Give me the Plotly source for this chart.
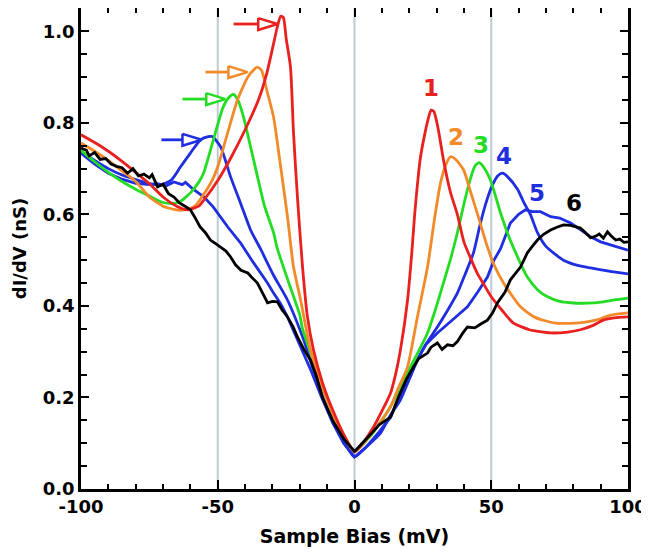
import plotly.graph_objects as go

# ---------------- data ----------------
x1 = [-100, -95, -90, -85, -80, -75, -70, -65, -61, -57, -55, -50, -45, -40, -35, -32, -30, -28.2, -27, -26,
      -25, -23.4, -22.3, -20.8, -19, -17.2, -15, -11.7, -8, -4, 0, 3, 7, 10, 13.2, 15, 16.8, 19.4, 21, 22,
      23, 24, 25.5, 27, 28, 29, 30.5, 32.5, 35, 37.6, 40, 42.4, 45, 47, 50, 54, 58, 64, 71.7, 78, 82.6, 87,
      91, 95, 100]
y1 = [0.774, 0.757, 0.738, 0.716, 0.692, 0.667, 0.638, 0.618, 0.610, 0.618, 0.632, 0.674, 0.726, 0.785,
      0.852, 0.910, 0.962, 1.010, 1.033, 1.030, 0.985, 0.922, 0.778, 0.632, 0.485, 0.376, 0.304, 0.232,
      0.173, 0.120, 0.082, 0.100, 0.136, 0.170, 0.210, 0.250, 0.304, 0.413, 0.520, 0.600, 0.665, 0.720,
      0.770, 0.810, 0.828, 0.825, 0.790, 0.720, 0.650, 0.600, 0.540, 0.505, 0.470, 0.450, 0.420, 0.390,
      0.363, 0.348, 0.341, 0.343, 0.348, 0.357, 0.369, 0.374, 0.376]

x2 = [-100, -95, -90, -85, -80, -75, -70, -65, -63.6, -60, -58, -55, -52, -50, -46.4, -42.8, -39, -36.5,
      -35.5, -34, -32, -29.6, -27, -24.5, -22.3, -19.7, -16.1, -12.4, -8, -4, 0, 4, 8, 13.2, 16, 19.4, 23,
      26.7, 29.5, 31.5, 33.5, 35.1, 37, 39.9, 42.4, 45, 48.6, 51, 54.5, 60.7, 66, 72.8, 79, 85, 90, 93.6, 100]
y2 = [0.756, 0.738, 0.718, 0.695, 0.672, 0.638, 0.618, 0.610, 0.609, 0.613, 0.620, 0.645, 0.675, 0.704,
      0.778, 0.850, 0.900, 0.918, 0.922, 0.915, 0.870, 0.813, 0.704, 0.595, 0.485, 0.413, 0.304, 0.232,
      0.165, 0.115, 0.082, 0.105, 0.135, 0.180, 0.220, 0.267, 0.376, 0.485, 0.600, 0.670, 0.710, 0.726,
      0.720, 0.697, 0.650, 0.600, 0.529, 0.490, 0.450, 0.398, 0.375, 0.363, 0.362, 0.365, 0.372, 0.380, 0.385]

x3 = [-100, -95, -90, -85, -80, -75, -70, -66, -64, -60, -57, -55.2, -51.6, -48, -46, -44.2, -42.5, -40.6,
      -36.9, -34.4, -33, -29.6, -28.2, -24, -20, -19, -15, -10, -5, 0, 5, 10, 13.2, 17, 20.5, 26.7, 30, 32.5,
      35, 37.6, 39.9, 42, 44, 45.5, 47, 49.7, 53.4, 55.9, 58, 63.2, 67, 70.6, 75, 79, 85, 91, 95, 100]
y3 = [0.740, 0.715, 0.692, 0.672, 0.655, 0.640, 0.626, 0.624, 0.627, 0.647, 0.670, 0.690, 0.763, 0.835,
      0.855, 0.862, 0.848, 0.813, 0.719, 0.655, 0.620, 0.560, 0.525, 0.450, 0.380, 0.350, 0.280, 0.195,
      0.130, 0.082, 0.110, 0.150, 0.180, 0.225, 0.267, 0.341, 0.400, 0.450, 0.500, 0.560, 0.620, 0.670,
      0.705, 0.713, 0.705, 0.675, 0.603, 0.560, 0.529, 0.463, 0.435, 0.420, 0.410, 0.407, 0.406, 0.409,
      0.413, 0.417]

x4 = [-100, -95, -90, -85, -80, -75, -71, -67, -63.6, -60, -56.3, -53.5, -52, -49, -45.3, -41.7, -38,
      -34.4, -29.6, -24.5, -18.6, -15, -10, -5, 0, 4, 9.5, 13, 16.8, 20, 23, 26.5, 30.3, 34, 37.6, 40.5,
      43.5, 46, 48.6, 50.5, 52.5, 54.1, 56, 59.6, 62, 64.3, 66.9, 70, 76.4, 82, 86.3, 93, 100]
y4 = [0.737, 0.718, 0.700, 0.686, 0.676, 0.667, 0.664, 0.675, 0.704, 0.734, 0.763, 0.770, 0.770, 0.748,
      0.682, 0.625, 0.566, 0.525, 0.467, 0.413, 0.326, 0.260, 0.175, 0.115, 0.070, 0.090, 0.122, 0.160,
      0.195, 0.240, 0.282, 0.320, 0.354, 0.390, 0.428, 0.470, 0.516, 0.580, 0.635, 0.665, 0.685, 0.690,
      0.682, 0.655, 0.625, 0.600, 0.560, 0.530, 0.500, 0.488, 0.483, 0.476, 0.470]

x5 = [-100, -95, -90, -85, -80, -75, -72, -69, -66, -63, -61.8, -59, -55, -51.6, -46.4, -41.7, -36.9,
      -31.8, -29.6, -27, -24.5, -20, -16, -12, -8, -4, 0, 4, 9, 13.2, 16, 19.4, 23, 26, 30.3, 34, 37.6,
      41.3, 45, 48.6, 51, 53.4, 57, 60, 62.5, 65, 68, 71.7, 75, 79, 83, 86.3, 90, 93.6, 97, 100]
y5 = [0.734, 0.710, 0.690, 0.677, 0.668, 0.665, 0.667, 0.662, 0.671, 0.665, 0.670, 0.655, 0.638, 0.616,
      0.573, 0.538, 0.494, 0.450, 0.428, 0.405, 0.376, 0.315, 0.260, 0.200, 0.145, 0.100, 0.070, 0.090,
      0.125, 0.157, 0.195, 0.232, 0.282, 0.315, 0.341, 0.360, 0.378, 0.398, 0.430, 0.463, 0.500, 0.525,
      0.581, 0.600, 0.610, 0.606, 0.606, 0.595, 0.592, 0.581, 0.565, 0.551, 0.540, 0.533, 0.527, 0.522]

x6 = [-100, -98, -97, -95, -93, -91, -89, -87, -85, -83, -81, -79, -77, -75, -74, -72, -70, -68, -66,
      -64, -62, -60, -58.5, -56.5, -54.5, -52.7, -50.5, -49, -47, -45.3, -43.5, -41.5, -39, -37.5, -35.5,
      -33.5, -31.8, -30, -28.2, -26.5, -24.5, -22.5, -20.8, -18.5, -16.1, -14, -11.7, -8, -4, 0, 3, 6, 9,
      13.2, 16, 19, 21.6, 23.5, 26.7, 28, 30.3, 32, 34, 36, 37.6, 39.5, 41.3, 44, 46, 48.6, 50.5, 52.3, 55,
      57, 60.7, 63.2, 65, 66.9, 69, 71.7, 74, 76.4, 79, 81, 82.6, 84.5, 86.3, 88, 89.5, 91, 92.5, 94, 95.5,
      97, 98.5, 100]
y6 = [0.745, 0.740, 0.728, 0.735, 0.720, 0.722, 0.710, 0.705, 0.702, 0.690, 0.700, 0.684, 0.688, 0.680,
      0.687, 0.660, 0.666, 0.645, 0.638, 0.625, 0.618, 0.610, 0.595, 0.573, 0.560, 0.544, 0.535, 0.529,
      0.520, 0.507, 0.490, 0.478, 0.472, 0.462, 0.450, 0.427, 0.407, 0.410, 0.409, 0.392, 0.376, 0.355,
      0.332, 0.305, 0.282, 0.248, 0.200, 0.150, 0.110, 0.082, 0.100, 0.120, 0.140, 0.157, 0.200, 0.240,
      0.267, 0.285, 0.297, 0.310, 0.319, 0.305, 0.315, 0.313, 0.322, 0.340, 0.354, 0.352, 0.360, 0.369,
      0.385, 0.407, 0.430, 0.457, 0.485, 0.516, 0.530, 0.544, 0.556, 0.566, 0.572, 0.577, 0.576, 0.572,
      0.570, 0.560, 0.549, 0.552, 0.557, 0.548, 0.562, 0.552, 0.544, 0.546, 0.539, 0.540]

series_names = ["1", "2", "3", "4", "5", "6"]
colors = ["#e8201e", "#f28a2a", "#25dc25", "#1f2ee0", "#1f2ee0", "#000000"]

# curve number labels (data coordinates)
label_x = [27.8, 37.0, 46.4, 54.5, 66.9, 80.4]
label_y = [0.876, 0.770, 0.752, 0.728, 0.647, 0.625]

# arrows pointing at the negative-bias peaks of curves 1-4
arrow_start_x = [-44.2, -54.5, -62.9, -70.6]
arrow_tip_x = [-28.2, -39.1, -47.2, -55.9]
arrow_y = [1.016, 0.911, 0.852, 0.763]
arrow_head_len = 7.0
arrow_head_half = 0.013

ref_lines_x = [-50, 0, 50]

x_tick_vals = [-100, -50, 0, 50, 100]
x_tick_text = ["-100", "-50", "0", "50", "100"]
y_tick_vals = [0, 0.2, 0.4, 0.6, 0.8, 1.0]
y_tick_text = ["0.0", "0.2", "0.4", "0.6", "0.8", "1.0"]

# ---------------- figure ----------------
fig = go.Figure()

for xv in ref_lines_x:
    fig.add_vline(x=xv, line=dict(color="#bccbd4", width=2), layer="below")

xs = [x1, x2, x3, x4, x5, x6]
ys = [y1, y2, y3, y4, y5, y6]
order = [4, 3, 2, 1, 0, 5]
for i in order:
    smooth = i < 4
    fig.add_trace(go.Scatter(
        x=xs[i], y=ys[i], mode="lines", name=series_names[i],
        line=dict(color=colors[i], width=2.8, shape="spline" if smooth else "linear",
                  smoothing=0.6 if smooth else None),
        showlegend=False, hoverinfo="skip"))

for k in range(4):
    base = arrow_tip_x[k] - arrow_head_len
    fig.add_trace(go.Scatter(
        x=[arrow_start_x[k], base], y=[arrow_y[k], arrow_y[k]], mode="lines",
        line=dict(color=colors[k], width=2.8), showlegend=False, hoverinfo="skip"))
    fig.add_trace(go.Scatter(
        x=[base, arrow_tip_x[k], base, base],
        y=[arrow_y[k] + arrow_head_half, arrow_y[k], arrow_y[k] - arrow_head_half,
           arrow_y[k] + arrow_head_half],
        mode="lines", fill="toself", fillcolor="white",
        line=dict(color=colors[k], width=2.5), showlegend=False, hoverinfo="skip"))

for k in range(6):
    fig.add_annotation(x=label_x[k], y=label_y[k], text=series_names[k], showarrow=False,
                       font=dict(family="DejaVu Sans", size=23, color=colors[k], weight="bold"))

tick_font = dict(family="DejaVu Sans", size=18, color="black", weight="bold")
title_font = dict(family="DejaVu Sans", size=19, color="black", weight="bold")
# the page adds an 8 px body margin, so the figure is sized to the remaining window
fig.update_layout(
    width=641, height=547,
    margin=dict(l=73, r=21, t=0, b=66),
    paper_bgcolor="white", plot_bgcolor="white",
    font=tick_font,
    xaxis=dict(range=[-100, 100], tickvals=x_tick_vals, ticktext=x_tick_text,
               ticks="inside", ticklen=9, tickwidth=2, tickcolor="black",
               minor=dict(dtick=10, ticks="inside", ticklen=5, tickwidth=2, tickcolor="black", showgrid=False),
               showline=True, linecolor="black", linewidth=2.5, mirror="allticks",
               showgrid=False, zeroline=False, automargin=False,
               tickfont=tick_font, ticklabelstandoff=0,
               title=dict(text="Sample Bias (mV)", font=title_font, standoff=14)),
    yaxis=dict(range=[0, 1.051], tickvals=y_tick_vals, ticktext=y_tick_text,
               ticks="inside", ticklen=8, tickwidth=2, tickcolor="black",
               minor=dict(dtick=0.05, ticks="inside", ticklen=6, tickwidth=2, tickcolor="black", showgrid=False),
               showline=True, linecolor="black", linewidth=2.5, mirror="allticks",
               showgrid=False, zeroline=False, automargin=False,
               tickfont=tick_font,
               title=dict(text="dI/dV (nS)", font=dict(family="DejaVu Sans", size=18, color="black",
                                                        weight="bold"), standoff=12)),
)

fig.write_html("out.html")
